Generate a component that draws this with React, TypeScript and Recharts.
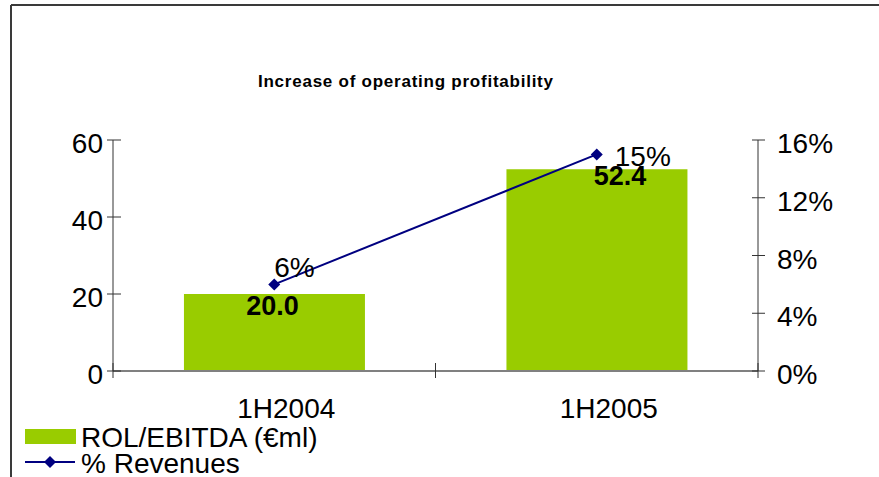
import React from "react";
import { ComposedChart, Bar, Line, XAxis, YAxis } from "recharts";

const periods = ["1H2004", "1H2005"];
const rolEbitda = [20.0, 52.4];
const pctRevenues = [0.06, 0.15];
const leftTicks = [0, 20, 40, 60];
const rightTicks = [0, 0.04, 0.08, 0.12, 0.16];

const data = periods.map((p, i) => ({ period: p, rol: rolEbitda[i], pct: pctRevenues[i] }));

const FONT = "'Liberation Sans', Arial, Helvetica, sans-serif";
const GREEN = "#99cc00";
const NAVY = "#000080";
const AXIS = "#333";

// label nudges (Excel placed them a bit oddly)
const barLabelDx = [-2, 23];
const barLabelDy = [21, 16];
const lineLabelDx = [0, 18];
const lineLabelDy = [-7, 12];

const LeftTick = (p: any) => (
  <g>
    <line x1={p.x - 6} x2={p.x + 8} y1={p.y} y2={p.y} stroke={AXIS} />
    <text x={p.x - 10} y={p.y + 13} textAnchor="end" fontSize={28} fontFamily={FONT} fill="#000">
      {p.payload.value}
    </text>
  </g>
);

const RightTick = (p: any) => (
  <g>
    <line x1={p.x - 6} x2={p.x + 7} y1={p.y} y2={p.y} stroke={AXIS} />
    <text x={p.x + 19} y={p.y + 13} textAnchor="start" fontSize={28} fontFamily={FONT} fill="#000">
      {Math.round(p.payload.value * 100)}%
    </text>
  </g>
);

const BottomTick = (p: any) => {
  const off = p.payload.offset || 0;
  return (
    <g>
      {p.index === 0 && (
        <>
          <line x1={p.x - off} x2={p.x - off} y1={p.y - 8} y2={p.y + 7} stroke={AXIS} />
          <line x1={p.x + off} x2={p.x + off} y1={p.y - 8} y2={p.y + 7} stroke={AXIS} />
        </>
      )}
      {p.index === periods.length - 1 && (
        <line x1={p.x + off} x2={p.x + off} y1={p.y - 8} y2={p.y + 7} stroke={AXIS} />
      )}
      <text x={p.x + 12} y={p.y + 47} textAnchor="middle" fontSize={28} fontFamily={FONT} fill="#000">
        {p.payload.value}
      </text>
    </g>
  );
};

const barLabel = (p: any) => (
  <text
    x={p.x + p.width / 2 + barLabelDx[p.index]}
    y={p.y + barLabelDy[p.index]}
    textAnchor="middle"
    fontSize={27}
    fontWeight="bold"
    fontFamily={FONT}
    fill="#000"
  >
    {Number(p.value).toFixed(1)}
  </text>
);

const lineLabel = (p: any) => (
  <text
    x={p.x + lineLabelDx[p.index]}
    y={p.y + lineLabelDy[p.index]}
    textAnchor="start"
    fontSize={28}
    fontFamily={FONT}
    fill="#000"
  >
    {Math.round(p.value * 100)}%
  </text>
);

const Diamond = (p: any) => {
  const { cx, cy } = p;
  if (cx == null || cy == null) return null;
  return <path d={`M${cx} ${cy - 6}L${cx + 6} ${cy}L${cx} ${cy + 6}L${cx - 6} ${cy}Z`} fill={NAVY} />;
};

export default function App() {
  return (
    <div style={{ position: "absolute", left: 0, top: 0, width: 879, height: 477, background: "#fff", fontFamily: FONT }}>
      <ComposedChart
        width={879}
        height={477}
        data={data}
        margin={{ top: 140, right: 0, bottom: 66, left: 53 }}
        barCategoryGap="22%"
      >
        <XAxis
          dataKey="period"
          height={40}
          axisLine={{ stroke: "#808080", strokeWidth: 2 }}
          tickLine={false}
          tickSize={0}
          tickMargin={0}
          tick={BottomTick}
          interval={0}
        />
        <YAxis
          yAxisId="left"
          width={60}
          domain={[0, 60]}
          ticks={leftTicks}
          axisLine={{ stroke: AXIS }}
          tickLine={false}
          tickSize={0}
          tickMargin={0}
          tick={LeftTick}
        />
        <YAxis
          yAxisId="right"
          orientation="right"
          width={121}
          domain={[0, 0.16]}
          ticks={rightTicks}
          axisLine={{ stroke: AXIS }}
          tickLine={false}
          tickSize={0}
          tickMargin={0}
          tick={RightTick}
        />
        <Bar yAxisId="left" dataKey="rol" fill={GREEN} isAnimationActive={false} label={barLabel} />
        <Line
          yAxisId="right"
          dataKey="pct"
          stroke={NAVY}
          strokeWidth={2}
          dot={Diamond}
          activeDot={false}
          isAnimationActive={false}
          label={lineLabel}
        />
      </ComposedChart>
      <svg width={879} height={477} style={{ position: "absolute", left: 0, top: 0, pointerEvents: "none" }}>
        <line x1={11} y1={5} x2={879} y2={5} stroke="#3a3a3a" strokeWidth={2} />
        <line x1={11} y1={5} x2={11} y2={477} stroke="#3a3a3a" strokeWidth={2} />
        <text
          x={258}
          y={87}
          fontSize={17}
          fontWeight="bold"
          fontFamily={FONT}
          textLength={295}
          lengthAdjust="spacing"
          fill="#000"
        >
          Increase of operating profitability
        </text>
        <rect x={25} y={429} width={51} height={15} fill={GREEN} />
        <text x={81} y={447} fontSize={28} fontFamily={FONT} fill="#000">
          ROL/EBITDA (€ml)
        </text>
        <line x1={25} x2={75} y1={462} y2={462} stroke={NAVY} strokeWidth={2} />
        <path d="M50 456L56 462L50 468L44 462Z" fill={NAVY} />
        <text x={81} y={473} fontSize={28} fontFamily={FONT} fill="#000">
          % Revenues
        </text>
      </svg>
    </div>
  );
}
